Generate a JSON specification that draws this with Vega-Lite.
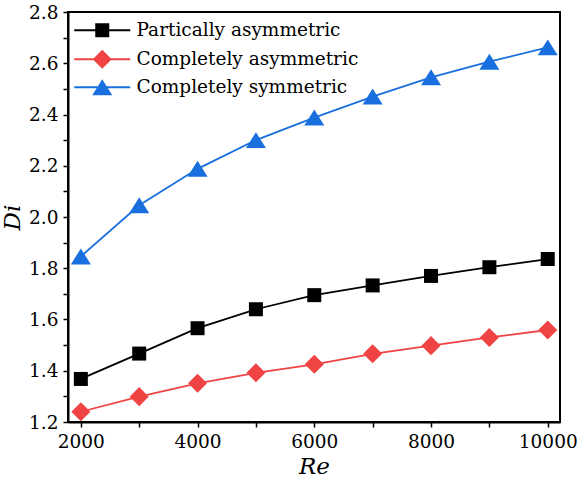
{
  "$schema": "https://vega.github.io/schema/vega-lite/v6.json",
  "autosize": {"type": "none"},
  "padding": {"left": 68, "top": 12, "right": 20, "bottom": 60},
  "width": 492,
  "height": 410,
  "data": {
    "values": [
      {"Re": 2000, "Di": 1.368, "case": "Partically asymmetric"},
      {"Re": 3000, "Di": 1.467, "case": "Partically asymmetric"},
      {"Re": 4000, "Di": 1.566, "case": "Partically asymmetric"},
      {"Re": 5000, "Di": 1.640, "case": "Partically asymmetric"},
      {"Re": 6000, "Di": 1.695, "case": "Partically asymmetric"},
      {"Re": 7000, "Di": 1.733, "case": "Partically asymmetric"},
      {"Re": 8000, "Di": 1.770, "case": "Partically asymmetric"},
      {"Re": 9000, "Di": 1.804, "case": "Partically asymmetric"},
      {"Re": 10000, "Di": 1.836, "case": "Partically asymmetric"},
      {"Re": 2000, "Di": 1.240, "case": "Completely asymmetric"},
      {"Re": 3000, "Di": 1.299, "case": "Completely asymmetric"},
      {"Re": 4000, "Di": 1.351, "case": "Completely asymmetric"},
      {"Re": 5000, "Di": 1.392, "case": "Completely asymmetric"},
      {"Re": 6000, "Di": 1.425, "case": "Completely asymmetric"},
      {"Re": 7000, "Di": 1.466, "case": "Completely asymmetric"},
      {"Re": 8000, "Di": 1.498, "case": "Completely asymmetric"},
      {"Re": 9000, "Di": 1.530, "case": "Completely asymmetric"},
      {"Re": 10000, "Di": 1.559, "case": "Completely asymmetric"},
      {"Re": 2000, "Di": 1.846, "case": "Completely symmetric"},
      {"Re": 3000, "Di": 2.046, "case": "Completely symmetric"},
      {"Re": 4000, "Di": 2.188, "case": "Completely symmetric"},
      {"Re": 5000, "Di": 2.300, "case": "Completely symmetric"},
      {"Re": 6000, "Di": 2.388, "case": "Completely symmetric"},
      {"Re": 7000, "Di": 2.470, "case": "Completely symmetric"},
      {"Re": 8000, "Di": 2.545, "case": "Completely symmetric"},
      {"Re": 9000, "Di": 2.606, "case": "Completely symmetric"},
      {"Re": 10000, "Di": 2.662, "case": "Completely symmetric"}
    ]
  },
  "encoding": {
    "x": {
      "field": "Re",
      "type": "quantitative",
      "title": "Re",
      "scale": {"domain": [1780, 10210], "nice": false, "zero": false},
      "axis": {
        "values": [2000, 3000, 4000, 5000, 6000, 7000, 8000, 9000, 10000],
        "format": "d",
        "labelExpr": "datum.value % 2000 === 0 ? datum.label : ''",
        "titlePadding": 5
      }
    },
    "y": {
      "field": "Di",
      "type": "quantitative",
      "title": "Di",
      "scale": {"domain": [1.2, 2.8], "nice": false, "zero": false},
      "axis": {
        "values": [1.2, 1.3, 1.4, 1.5, 1.6, 1.7, 1.8, 1.9, 2.0, 2.1, 2.2, 2.3, 2.4, 2.5, 2.6, 2.7, 2.8],
        "labelExpr": "round(datum.value * 10) % 2 === 0 ? format(datum.value, '.1f') : ''",
        "titlePadding": 4
      }
    }
  },
  "layer": [
    {
      "mark": {"type": "line", "strokeWidth": 1.8},
      "encoding": {
        "color": {
          "field": "case",
          "type": "nominal",
          "scale": {
            "domain": ["Partically asymmetric", "Completely asymmetric", "Completely symmetric"],
            "range": ["#000000", "#F04343", "#1A6FDF"]
          },
          "legend": null
        }
      }
    },
    {
      "mark": {"type": "point", "filled": true, "opacity": 1, "size": 196, "strokeWidth": 0},
      "encoding": {
        "color": {
          "field": "case",
          "type": "nominal",
          "scale": {
            "domain": ["Partically asymmetric", "Completely asymmetric", "Completely symmetric"],
            "range": ["#000000", "#F04343", "#1A6FDF"]
          },
          "legend": null
        },
        "shape": {
          "field": "case",
          "type": "nominal",
          "scale": {
            "domain": ["Partically asymmetric", "Completely asymmetric", "Completely symmetric"],
            "range": [
              "M-1,-1H1V1H-1Z",
              "M0,-1.36L1.36,0L0,1.36L-1.36,0Z",
              "M0,-1.14L1.43,1.14L-1.43,1.14Z"
            ]
          },
          "legend": null
        }
      }
    },
    {
      "mark": {"type": "point", "filled": true, "opacity": 0, "size": 196, "strokeWidth": 0},
      "encoding": {
        "color": {
          "field": "case",
          "type": "nominal",
          "scale": {
            "domain": ["Partically asymmetric", "Completely asymmetric", "Completely symmetric"],
            "range": ["#000000", "#F04343", "#1A6FDF"]
          },
          "legend": {"title": null}
        },
        "shape": {
          "field": "case",
          "type": "nominal",
          "scale": {
            "domain": ["Partically asymmetric", "Completely asymmetric", "Completely symmetric"],
            "range": [
              "M-4,-0.13H4V0.13H-4Z M-1,-1H1V1H-1Z",
              "M-4,-0.13H4V0.13H-4Z M0,-1.36L1.36,0L0,1.36L-1.36,0Z",
              "M-4,-0.13H4V0.13H-4Z M0,-1.14L1.43,1.14L-1.43,1.14Z"
            ]
          },
          "legend": {"title": null}
        }
      }
    }
  ],
  "resolve": {"scale": {"color": "independent", "shape": "independent"}},
  "config": {
    "font": "DejaVu Serif",
    "view": {"stroke": "#000000", "strokeWidth": 2},
    "text": {"font": "DejaVu Serif"},
    "axis": {
      "grid": false,
      "domainColor": "#000000",
      "domainWidth": 2,
      "tickColor": "#000000",
      "tickWidth": 1.5,
      "tickSize": 5,
      "labelFont": "DejaVu Serif",
      "labelFontSize": 18.5,
      "labelColor": "#000000",
      "labelPadding": 5,
      "titleFont": "DejaVu Serif",
      "titleFontSize": 23,
      "titleFontStyle": "italic",
      "titleFontWeight": "normal",
      "titleColor": "#000000"
    },
    "legend": {
      "orient": "none",
      "legendX": 25,
      "legendY": 9,
      "padding": 0,
      "symbolSize": 196,
      "symbolStrokeWidth": 0,
      "symbolOpacity": 1,
      "labelFont": "DejaVu Serif",
      "labelFontSize": 18.5,
      "labelColor": "#000000",
      "labelOffset": 25,
      "rowPadding": 9,
      "labelLimit": 400
    }
  }
}
